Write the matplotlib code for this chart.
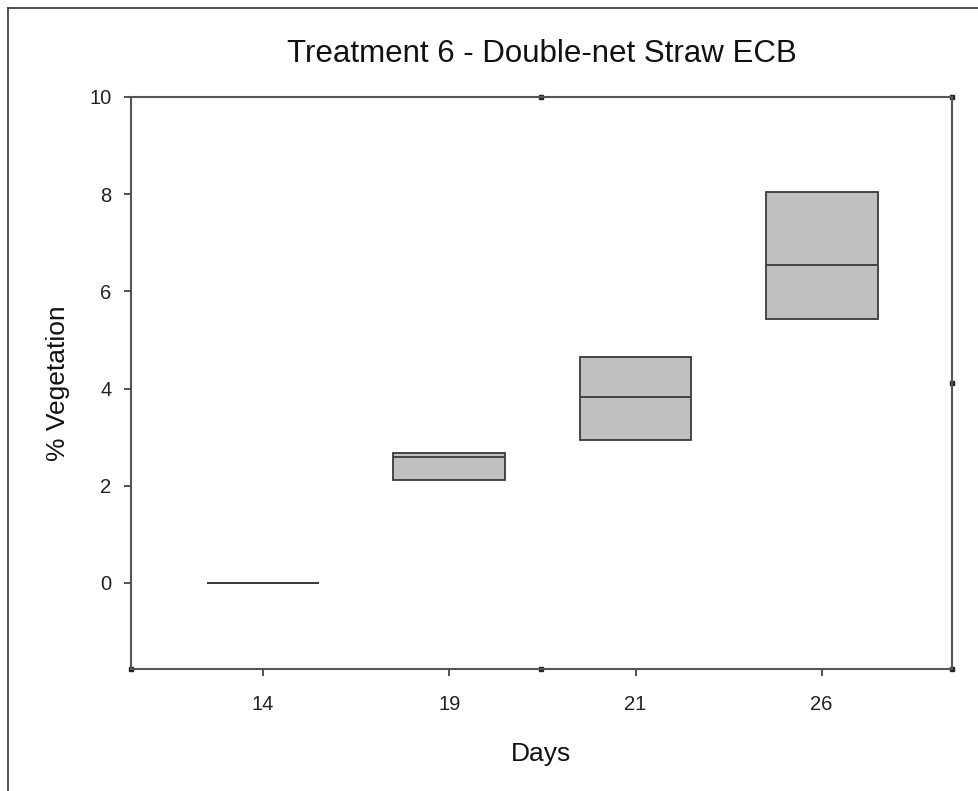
import matplotlib
matplotlib.use("Agg")
import matplotlib.pyplot as plt
from matplotlib.lines import Line2D

plt.rcParams['font.family'] = ['Liberation Sans', 'DejaVu Sans']

days = ["14", "19", "21", "26"]
q1 = [0.0, 2.11, 2.95, 5.43]
median = [0.0, 2.59, 3.82, 6.54]
q3 = [0.0, 2.68, 4.64, 8.05]

fig = plt.figure(figsize=(9.79, 7.91), dpi=100)
ax = fig.add_axes([131/979, 1-669/791, (952-131)/979, (669-97)/791])

stats = []
for d, a, m, b in zip(days, q1, median, q3):
    stats.append(dict(label=d, q1=a, med=m, q3=b, whislo=a, whishi=b, fliers=[]))

edge = '#3a3a3a'
ax.bxp(stats, positions=range(len(days)), widths=0.6, patch_artist=True,
       showcaps=False, showfliers=False,
       boxprops=dict(facecolor='#c0c0c0', edgecolor=edge, linewidth=1.3),
       medianprops=dict(color=edge, linewidth=1.3),
       whiskerprops=dict(linewidth=0))

ax.set_xlim(-0.71, 3.70)
ax.set_ylim(-1.77, 10)
ax.set_yticks([0, 2, 4, 6, 8, 10])
ax.set_xticks(range(len(days)))
ax.set_xticklabels(days)

for s in ax.spines.values():
    s.set_color('#555555')
    s.set_linewidth(1.5)
ax.tick_params(axis='both', direction='out', length=5, width=1.2, color='#333333',
               labelsize=14.5, labelcolor='#222222')
ax.tick_params(axis='x', pad=14)
ax.tick_params(axis='y', pad=9)

ax.set_title("Treatment 6 - Double-net Straw ECB", fontsize=22.5, pad=25, color='#111111')
ax.set_xlabel("Days", fontsize=19, labelpad=20, color='#111111')
ax.set_ylabel("% Vegetation", fontsize=19, labelpad=14, color='#111111')

# small marks at spine midpoints and corners
for (x, y) in [(0.5, 1.0), (1.0, 0.5), (0.5, 0.0), (0.0, 0.0), (1.0, 0.0), (1.0, 1.0)]:
    ax.plot([x], [y], marker='s', markersize=2.5, color='#222222', transform=ax.transAxes, clip_on=False)

# figure border (top and left)
fig.add_artist(Line2D([8/979, 8/979], [0, 1-8/791], transform=fig.transFigure, color='#333333', linewidth=1.2))
fig.add_artist(Line2D([8/979, 1], [1-8/791, 1-8/791], transform=fig.transFigure, color='#333333', linewidth=1.2))

fig.savefig("out.png", dpi=100)
